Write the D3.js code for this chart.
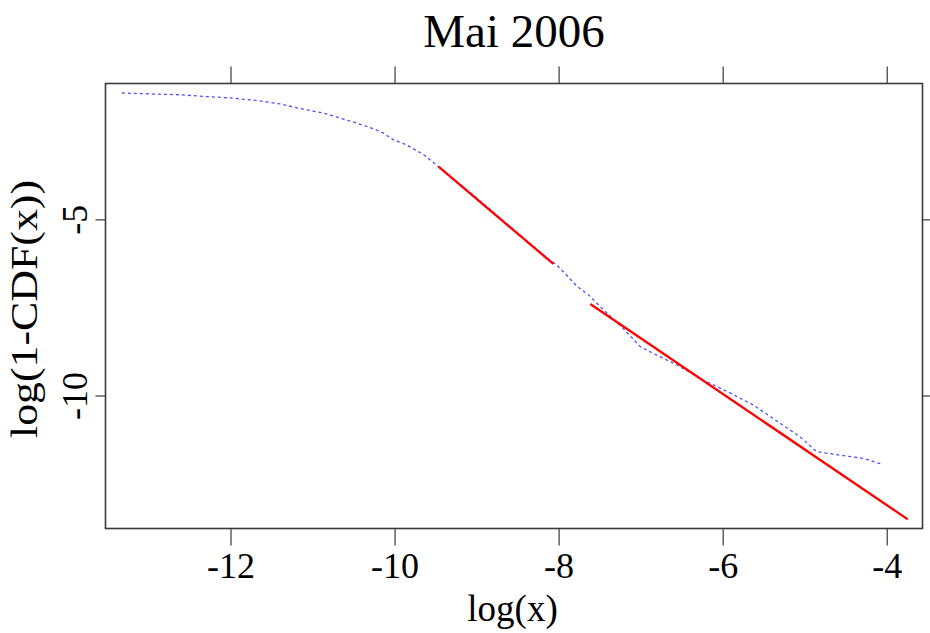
<!DOCTYPE html>
<html>
<head>
<meta charset="utf-8">
<script src="https://cdn.jsdelivr.net/npm/d3@7"></script>
<style>
  html, body { margin: 0; padding: 0; background: #fff; }
  svg { display: block; }
  text { font-family: "Liberation Serif", "DejaVu Serif", serif; fill: #000; }
</style>
</head>
<body>
<svg id="chart" width="930" height="633"></svg>
<script>
// ---- data ----
const title = "Mai 2006";
const xLabel = "log(x)";
const yLabel = "log(1-CDF(x))";
const xTicks = [-12, -10, -8, -6, -4];
const yTicks = [-5, -10];

// empirical curve (blue, dotted)
const empX = [-13.33, -12.91, -12.62, -12.30, -12.01, -11.69, -11.40, -11.12, -10.87, -10.63,
              -10.47, -10.26, -10.14, -10.02, -9.86, -9.65, -9.47, -9.05, -8.19, -8.05,
              -7.99, -7.78, -7.64, -7.50, -7.22, -7.01, -6.81, -6.56, -6.24, -5.91,
              -5.63, -5.30, -5.06, -4.86, -4.57, -4.29, -4.06];
const empY = [-1.40, -1.43, -1.45, -1.50, -1.54, -1.61, -1.71, -1.86, -1.97, -2.14,
              -2.25, -2.42, -2.54, -2.73, -2.87, -3.15, -3.49, -4.29, -6.00, -6.25,
              -6.37, -6.89, -7.13, -7.46, -8.08, -8.60, -8.84, -9.12, -9.55, -9.92,
              -10.26, -10.78, -11.16, -11.58, -11.68, -11.77, -11.94];

// fitted lines (red)
const fit1X = [-9.47, -8.07];
const fit1Y = [-3.49, -6.25];
const fit2X = [-7.62, -3.75];
const fit2Y = [-7.39, -13.50];

// ---- layout ----
const svg = d3.select("#chart");
const L = 105.5, R = 922.5, T = 83.5, B = 528.5;

const x = d3.scaleLinear().domain([-13.53, -3.57]).range([L, R]);
const y = d3.scaleLinear().domain([-13.76, -1.13]).range([B, T]);

const axisColor = "#3a3a3a";

// ticks bottom & top
const gx = svg.append("g");
xTicks.forEach(v => {
  gx.append("line").attr("x1", x(v)).attr("x2", x(v)).attr("y1", B).attr("y2", B + 17)
    .attr("stroke", axisColor).attr("stroke-width", 1.2);
  gx.append("line").attr("x1", x(v)).attr("x2", x(v)).attr("y1", T).attr("y2", T - 17)
    .attr("stroke", axisColor).attr("stroke-width", 1.2);
  gx.append("text").attr("x", x(v)).attr("y", 578).attr("text-anchor", "middle")
    .attr("font-size", 36).text(d3.format("d")(v).replace("−", "-"));
});

// ticks left & right
const gy = svg.append("g");
yTicks.forEach(v => {
  gy.append("line").attr("x1", L).attr("x2", L - 10).attr("y1", y(v)).attr("y2", y(v))
    .attr("stroke", axisColor).attr("stroke-width", 1.2);
  gy.append("line").attr("x1", R).attr("x2", R + 10).attr("y1", y(v)).attr("y2", y(v))
    .attr("stroke", axisColor).attr("stroke-width", 1.2);
  gy.append("text").attr("x", 87).attr("y", y(v)).attr("text-anchor", "middle")
    .attr("transform", `rotate(-90, 87, ${y(v)})`)
    .attr("font-size", 36).text(d3.format("d")(v).replace("−", "-"));
});

// frame
svg.append("rect").attr("x", L).attr("y", T).attr("width", R - L).attr("height", B - T)
  .attr("fill", "none").attr("stroke", axisColor).attr("stroke-width", 1.6);

const line = d3.line().x(d => x(d[0])).y(d => y(d[1]));

// empirical curve
svg.append("path")
  .datum(empX.map((v, i) => [v, empY[i]]))
  .attr("d", line)
  .attr("fill", "none")
  .attr("stroke", "#4d4dff")
  .attr("stroke-width", 1.3)
  .attr("stroke-dasharray", "3,3");

// fitted lines
[[fit1X, fit1Y], [fit2X, fit2Y]].forEach(([fx, fy]) => {
  svg.append("path")
    .datum(fx.map((v, i) => [v, fy[i]]))
    .attr("d", line)
    .attr("fill", "none")
    .attr("stroke", "#ff0000")
    .attr("stroke-width", 2.3);
});

// title
svg.append("text").attr("x", (L + R) / 2).attr("y", 47).attr("text-anchor", "middle")
  .attr("font-size", 47).text(title);

// x label
svg.append("text").attr("x", 512.5).attr("y", 621).attr("text-anchor", "middle")
  .attr("font-size", 37).text(xLabel);

// y label
svg.append("text").attr("x", 0).attr("y", 0).attr("text-anchor", "middle")
  .attr("transform", "translate(37,309) rotate(-90)")
  .attr("font-size", 37)
  .attr("textLength", 258).attr("lengthAdjust", "spacingAndGlyphs")
  .text(yLabel);
</script>
</body>
</html>
